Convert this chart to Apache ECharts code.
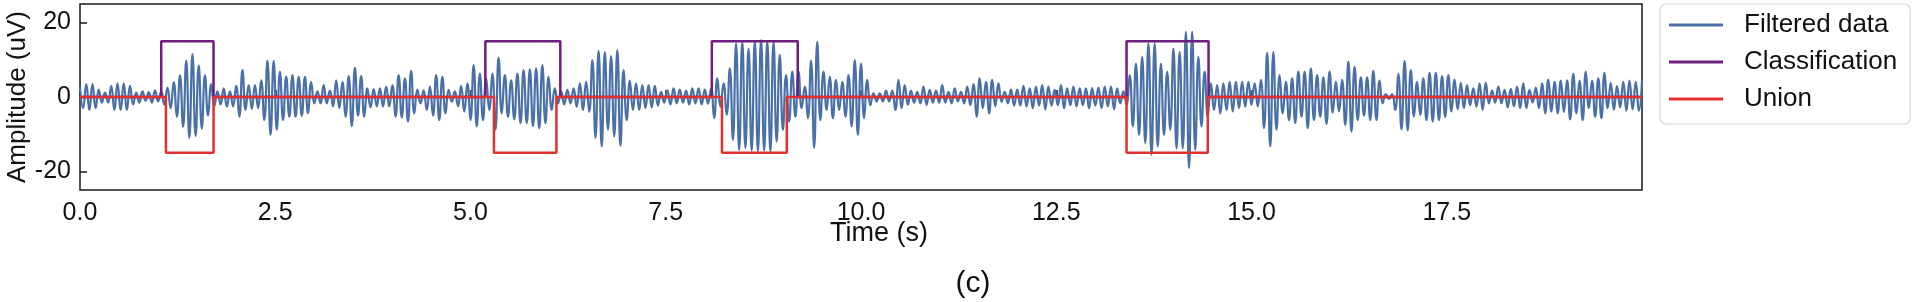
<!DOCTYPE html>
<html>
<head>
<meta charset="utf-8">
<script src="https://cdn.jsdelivr.net/npm/echarts@6/dist/echarts.min.js"></script>
<style>
  html, body { margin: 0; padding: 0; background: #fff; }
  #chart { width: 1915px; height: 302px; }
</style>
</head>
<body>
<div id="chart"></div>
<script>
// sampling step of the filtered trace (s)
const dt = 0.04

// filtered data (uV), one row per second
const filtered = [
  [2.5, -3, 3.5, -3.5, 3.5, -3, 2, -1.5, 1.2, -1.5, 3, -3.5, 3.7, -3.5, 3.7, -3.5, 3, -2, 1.2, -1.5, 1.5, -1, 1.3, -1.5, 1.8],
  [-1.2, 1.5, -2, 2.5, -3, 4, -5.3, 5.8, -8, 9.8, -11, 11.5, -10.5, 8.5, -8.5, 5.9, -5, 3.5, -2.5, 1.5, -2, 2.3, -2.6, 1.5, -2.5],
  [3, -5.3, 7.2, -3.5, 3.2, -3.2, 3.2, -3, 4.5, -6.2, 9.7, -10.2, 9.7, -8.8, 6.8, -6.2, 5.5, -5.3, 5.9, -5.3, 5.4, -5, 5.4, -4.4, 4],
  [-1.7, 1.5, -1.7, 3.2, -1.7, 1.7, -2.5, 4.5, -3, 4, -5.3, 5.6, -7.8, 7.9, -5, 5.6, -5.3, 2.3, -2.8, 2.1, -2.5, 2.3, -2.5, 2.8, -2.5],
  [3.2, -5.3, 5.9, -5.5, 5, -6.6, 7, -4.4, 2, -1.7, 1.8, -3.5, 2.8, -5, 5.9, -6.2, 5.4, -4.4, 1.9, -1.3, 1.5, -2.5, 3, -3.9, 3.7],
  [-6.2, 8.6, -7.9, 6.3, -6.2, 5, -3.5, 6.3, -8.8, 10.6, -4.4, 5.9, -5.3, 4.5, -6, 6.3, -7, 7.2, -7, 7.4, -7.8, 7.7, -8.4, 8.6, -7],
  [5.4, -3.5, 2.3, -1.7, 1.5, -2, 1.9, -1.7, 2.3, -2.6, 3.7, -3.5, 4.1, -4, 9.9, -11, 12.4, -13.3, 12.1, -8.8, 11, -10.6, 12.6, -13.1, 7.2],
  [-6.2, 4.4, -3.5, 3.7, -3.5, 3.2, -3, 3.2, -2.8, 3, -2.3, 1.4, -1.5, 1.8, -2, 2.3, -1.7, 2, -1.5, 1.7, -2, 2.3, -1.7, 2.3, -2],
  [2, -1.8, 2.3, -5.7, 5, -2.6, 3.7, -4.8, 7.7, -11.5, 14.4, -14.2, 14.8, -13.7, 13, -14.4, 15, -14.6, 15.3, -14.4, 15, -14.6, 14.8, -12, 11.3],
  [-8.8, 5.9, -6.6, 6.8, -5.3, 6.8, -3, 2.8, -5.7, 9.7, -13.7, 14.8, -6.2, 6.8, -3.5, 5.4, -5.7, 4.6, -3.5, 4.1, -5.3, 5.9, -7.9, 9.9, -10.2],
  [9, -5.7, 4.6, -2.2, 1, -1.2, 1, -1.2, 1.7, -1.2, 1.7, -3.5, 4.6, -3, 3.2, -2.1, 1.7, -1.5, 1.4, -1.7, 2.8, -2.1, 1.9, -1.5, 1.7],
  [-1.5, 3.2, -1.5, 1.4, -1.7, 2.3, -1.2, 1.4, -1.7, 2.8, -2.2, 3.5, -5.3, 5, -3, 4.1, -4.4, 4.6, -2.5, 3.7, -1.3, 1.4, -1.7, 2, -2.3],
  [2, -2.3, 3, -2.5, 2.3, -3, 2.8, -2.3, 3.2, -3.3, 2.8, -2.3, 1.9, -2.2, 3.2, -3, 2.3, -2.2, 2.8, -2.5, 2.3, -2.2, 2.3, -3, 2.4],
  [-2.3, 2.5, -3, 2.8, -2.5, 2.8, -3.3, 2.3, -1.7, 1.5, -2, 5.9, -7.9, 9, -10.2, 10.8, -12.4, 14.4, -15.5, 14.4, -13.3, 9, -10.2, 6.8, -8.8],
  [13, -13.8, 12.1, -13.8, 17.5, -19.1, 17.5, -14.2, 10.8, -7.9, 6.8, -5.3, 3.7, -3.5, 3.2, -4.4, 3.7, -3.5, 4.1, -3.9, 4.1, -3, 4.1, -2.6, 4.1],
  [-2.1, 3.7, -2.5, 4.6, -8.4, 11.9, -13.3, 12.1, -8.8, 5.9, -4.4, 4.1, -6.2, 5, -7, 6.8, -5.3, 6.8, -8.4, 7.7, -6.2, 5.9, -5.3, 5.3, -7.2],
  [6.8, -4.2, 4.1, -3.9, 4.6, -7.5, 9.5, -9.3, 8.1, -6.2, 5.3, -5, 5.3, -6.2, 7, -6.2, 4.4, -1.7, 0.8, -0.5, 0.8, -3.5, 6.2, -8.7, 9.7],
  [-9, 7.2, -5.3, 4.1, -4.8, 5, -6.2, 6.5, -6.6, 6.5, -6.2, 5.6, -5.3, 5.9, -3.9, 4.7, -3.3, 3.8, -3, 3.2, -2.2, 2.3, -2.6, 3.7, -3.5],
  [3.8, -1.7, 1.7, -1.5, 2.8, -1.7, 1.9, -2.8, 2.2, -2.5, 2.8, -3, 3.7, -3, 1.9, -1.5, 2.5, -3, 3.7, -4.4, 4.7, -3.9, 4.1, -4.4, 4.4],
  [-4, 4.5, -6, 6.2, -4.4, 4.4, -6.2, 6.8, -3, 4.4, -5.3, 5, -5.7, 6.5, -3, 3.8, -3.5, 2.9, -2.8, 4.1, -3.7, 4.4, -3.3, 4.1, -3.7, 4.4]
]

// detected windows (s) and marker levels (uV)
const classStart = [1.04, 5.19, 8.09, 13.40]
const classEnd = [1.71, 6.15, 9.19, 14.45]
const unionStart = [1.10, 5.30, 8.22, 13.40]
const unionEnd = [1.71, 6.10, 9.05, 14.44]
const classLevel = 15
const unionLevel = -15

const xTicks = [0, 2.5, 5, 7.5, 10, 12.5, 15, 17.5]
const yTicks = [-20, 0, 20]
const tMax = 20

function buildTrace() {
  const out = []
  filtered.flat().forEach((v, i) => {
    out.push([+(i * dt).toFixed(2), v])
  })
  return out
}

function buildSteps(starts, ends, level) {
  const out = [[0, 0]]
  starts.forEach((s, i) => {
    out.push([s, 0], [s, level], [ends[i], level], [ends[i], 0])
  })
  out.push([tMax, 0])
  return out
}

const font = 'Liberation Sans, Arial, sans-serif'
const chart = echarts.init(document.getElementById('chart'))
chart.setOption({
  animation: false,
  backgroundColor: '#fff',
  textStyle: { fontFamily: font },
  grid: {
    left: 80,
    top: 4,
    width: 1562,
    height: 186,
    outerBoundsMode: 'none',
    containLabel: false,
    show: true,
    borderColor: '#1a1a1a',
    borderWidth: 1.5,
    backgroundColor: 'transparent'
  },
  legend: {
    orient: 'vertical',
    left: 1660,
    top: 4,
    padding: [8, 13, 12, 9],
    itemGap: 11,
    itemWidth: 54,
    itemHeight: 3,
    icon: 'rect',
    borderColor: '#d6d6d6',
    borderWidth: 1.2,
    borderRadius: 6,
    textStyle: { fontSize: 26, color: '#111', fontFamily: font, padding: [0, 0, 0, 16] },
    data: ['Filtered data', 'Classification', 'Union']
  },
  xAxis: {
    type: 'value',
    min: 0,
    max: tMax,
    name: 'Time (s)',
    nameLocation: 'middle',
    nameMoveOverlap: false,
    nameGap: 30,
    nameTextStyle: { fontSize: 27, color: '#111', fontFamily: font, padding: [0, 0, 0, 36] },
    axisLine: { show: false },
    axisTick: {
      inside: true,
      length: 7,
      customValues: xTicks,
      lineStyle: { color: '#1a1a1a', width: 1.5 }
    },
    axisLabel: {
      fontSize: 25,
      color: '#111',
      margin: 11,
      customValues: xTicks,
      formatter: v => v.toFixed(1)
    },
    splitLine: { show: false }
  },
  yAxis: {
    type: 'value',
    min: -25,
    max: 25,
    name: 'Amplitude (uV)',
    nameLocation: 'middle',
    nameMoveOverlap: false,
    nameGap: 49,
    nameTextStyle: { fontSize: 26, color: '#111', fontFamily: font },
    axisLine: { show: false },
    axisTick: {
      inside: true,
      length: 7,
      customValues: yTicks,
      lineStyle: { color: '#1a1a1a', width: 1.5 }
    },
    axisLabel: {
      fontSize: 25,
      color: '#111',
      margin: 9,
      customValues: yTicks
    },
    splitLine: { show: false }
  },
  graphic: [{
    type: 'text',
    x: 973,
    y: 284,
    style: {
      text: '(c)',
      fontSize: 30,
      fontFamily: font,
      fill: '#111',
      textAlign: 'center',
      textVerticalAlign: 'middle'
    }
  }],
  series: [
    {
      name: 'Filtered data',
      type: 'line',
      data: buildTrace(),
      showSymbol: false,
      smooth: 0.5,
      itemStyle: { color: '#4a70a8' },
      lineStyle: { color: '#4a70a8', width: 2.2 },
      z: 2
    },
    {
      name: 'Classification',
      type: 'line',
      data: buildSteps(classStart, classEnd, classLevel),
      showSymbol: false,
      itemStyle: { color: '#6e1f7e' },
      lineStyle: { color: '#6e1f7e', width: 2.5 },
      z: 3
    },
    {
      name: 'Union',
      type: 'line',
      data: buildSteps(unionStart, unionEnd, unionLevel),
      showSymbol: false,
      itemStyle: { color: '#e2302e' },
      lineStyle: { color: '#e2302e', width: 2.5 },
      z: 4
    }
  ]
})
</script>
</body>
</html>
